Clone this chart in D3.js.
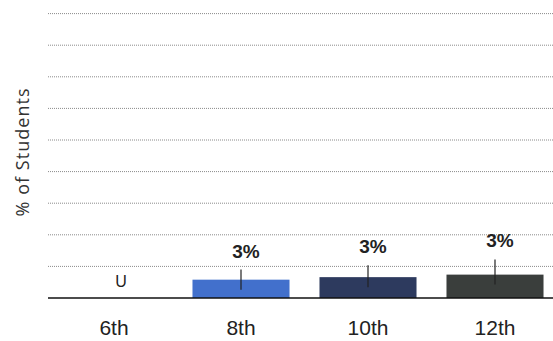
<!DOCTYPE html>
<html><head><meta charset="utf-8">
<script src="https://cdn.jsdelivr.net/npm/d3@7"></script>
<style>body{margin:0;background:#fff}svg{display:block}</style>
</head><body>
<script>
const grades = ["6th", "8th", "10th", "12th"];
const values = [null, 2.9, 3.3, 3.7];
const upper = [null, 4.5, 5.2, 6.1];
const valueLabels = ["U", "3%", "3%", "3%"];
const gridTicks = [5, 10, 15, 20, 25, 30, 35, 40, 45];
const colors = ["#ffffff", "#4270cc", "#2d3a5e", "#3a3e3c"];

const W = 553, H = 341;
const svg = d3.select("body").append("svg").attr("width", W).attr("height", H);

const x = d3.scaleBand().domain(grades).range([50.5, 558.5]).paddingInner(0.236).paddingOuter(0.118);
const y = d3.scaleLinear().domain([0, 50]).range([298, -18]);

// gridlines
svg.append("g").selectAll("line").data(gridTicks).join("line")
  .attr("x1", 48).attr("x2", W)
  .attr("y1", d => y(d)).attr("y2", d => y(d))
  .attr("stroke", "#8a8a8a").attr("stroke-width", 1)
  .attr("stroke-dasharray", "1,1");

// bars
const data = grades.map((g, i) => ({g, v: values[i], u: upper[i], lab: valueLabels[i], c: colors[i]}));
svg.append("g").selectAll("rect").data(data.filter(d => d.v != null)).join("rect")
  .attr("x", d => x(d.g)).attr("width", x.bandwidth())
  .attr("y", d => y(d.v)).attr("height", d => y(0) - y(d.v))
  .attr("fill", d => d.c);

// error bars
svg.append("g").selectAll("line").data(data.filter(d => d.u != null)).join("line")
  .attr("x1", d => x(d.g) + x.bandwidth() / 2).attr("x2", d => x(d.g) + x.bandwidth() / 2)
  .attr("y1", d => y(d.u)).attr("y2", d => y(d.v) + 10)
  .attr("stroke", "#222").attr("stroke-width", 1.2);

// value labels
svg.append("g").selectAll("text").data(data).join("text")
  .attr("x", d => x(d.g) + x.bandwidth() / 2 + (d.u == null ? 7 : 5))
  .attr("y", d => d.u == null ? 287 : y(d.u) - 12)
  .attr("text-anchor", "middle")
  .attr("font-family", "Liberation Sans, Arial, sans-serif")
  .attr("font-size", d => d.u == null ? 16 : 19)
  .attr("font-weight", d => d.u == null ? "normal" : "bold")
  .attr("fill", "#222")
  .text(d => d.lab);

// baseline
svg.append("line").attr("x1", 48).attr("x2", W).attr("y1", y(0)).attr("y2", y(0))
  .attr("stroke", "#111").attr("stroke-width", 1.5);

// x axis labels
const xAxis = d3.axisBottom(x).tickSize(0).tickPadding(0);
const gx = svg.append("g").attr("transform", "translate(0,320)").call(xAxis);
gx.select(".domain").remove();
gx.selectAll("text")
  .attr("font-family", "Liberation Sans, Arial, sans-serif")
  .attr("font-size", 21).attr("fill", "#222").attr("dy", "0.71em");

// y axis title
svg.append("text")
  .attr("transform", "translate(28.5,152.5) rotate(-90)")
  .attr("text-anchor", "middle")
  .attr("font-family", "Open Sans, sans-serif")
  .attr("font-size", 18).attr("fill", "#333")
  .attr("textLength", 128).attr("lengthAdjust", "spacing")
  .text("% of Students");
</script>
</body></html>
